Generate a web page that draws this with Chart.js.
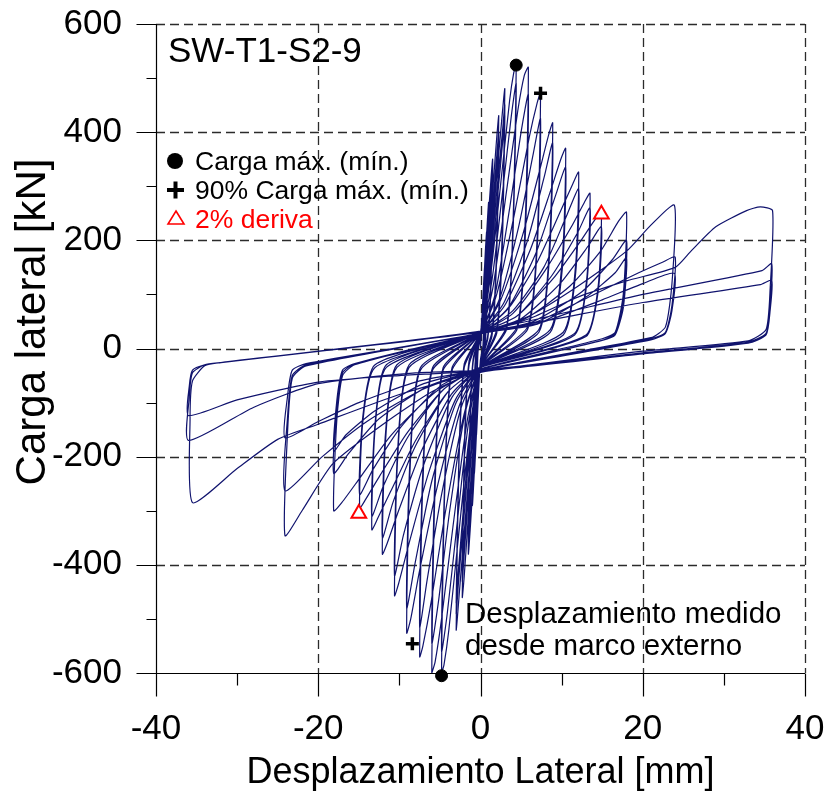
<!DOCTYPE html>
<html>
<head>
<meta charset="utf-8">
<script src="https://cdn.jsdelivr.net/npm/chart.js@4/dist/chart.umd.min.js"></script>
<style>
  body { margin: 0; background: #fff; }
  canvas { display: block; }
</style>
</head>
<body>
<canvas id="histeresis" width="829" height="794"></canvas>
<script>
// Lazo carga-desplazamiento: pares [desplazamiento mm, carga kN]
const inicio = [[0, 0]];

const ciclos05 = [
  [0.25,80],[0.5,150],[0.42,60],[0.3,5],[0,-20],[-0.25,-85],[-0.5,-160],[-0.42,-65],[-0.3,-5],[0,20],
  [0.25,75],[0.5,140],[0.42,55],[0.3,5],[0,-20],[-0.25,-80],[-0.5,-150],[-0.42,-60],[-0.3,-5],[0,20]
];
const ciclos075 = [
  [0.3,90],[0.6,180],[0.75,215],[0.63,85],[0.45,10],[0,-22],[-0.3,-95],[-0.6,-190],[-0.75,-230],[-0.63,-90],[-0.45,-10],[0,22],
  [0.35,85],[0.65,175],[0.75,200],[0.63,80],[0.45,10],[0,-22],[-0.35,-90],[-0.65,-180],[-0.75,-215],[-0.63,-85],[-0.45,-10],[0,22]
];
const ciclos10 = [
  [0.4,110],[0.75,210],[1.0,270],[0.85,110],[0.6,20],[0,-25],[-0.4,-115],[-0.75,-225],[-1.0,-290],[-0.85,-115],[-0.6,-20],[0,25],
  [0.45,100],[0.8,200],[1.0,250],[0.85,100],[0.6,15],[0,-25],[-0.45,-105],[-0.8,-210],[-1.0,-270],[-0.85,-105],[-0.6,-15],[0,25]
];
const ciclos15 = [
  [0.5,120],[1.0,250],[1.5,350],[1.3,140],[0.9,25],[0,-30],[-0.5,-125],[-1.0,-270],[-1.5,-380],[-1.3,-150],[-0.9,-25],[0,30],
  [0.6,115],[1.1,240],[1.5,325],[1.3,130],[0.9,20],[0,-30],[-0.6,-120],[-1.1,-255],[-1.5,-355],[-1.3,-140],[-0.9,-20],[0,30],
  [0.65,110],[1.15,230],[1.5,310],[1.3,120],[0.9,18],[0,-30],[-0.65,-115],[-1.15,-245],[-1.5,-340],[-1.3,-130],[-0.9,-18],[0,30]
];
const ciclos22 = [
  [0.7,130],[1.5,290],[2.0,390],[2.25,430],[1.95,170],[1.4,30],[0,-35],[-0.7,-140],[-1.5,-310],[-2.0,-420],[-2.25,-460],[-1.95,-180],[-1.4,-30],[0,30],
  [0.8,125],[1.6,280],[2.05,365],[2.25,400],[1.95,160],[1.4,25],[0,-35],[-0.8,-130],[-1.6,-295],[-2.05,-390],[-2.25,-430],[-1.95,-170],[-1.4,-25],[0,30],
  [0.85,120],[1.65,270],[2.1,350],[2.25,380],[1.95,150],[1.4,22],[0,-35],[-0.85,-125],[-1.65,-285],[-2.1,-375],[-2.25,-410],[-1.95,-160],[-1.4,-22],[0,30]
];
const ciclos30 = [
  [0.9,130],[1.9,300],[2.6,420],[3.0,480],[2.65,200],[2.0,35],[0,-35],[-0.9,-140],[-1.9,-320],[-2.6,-450],[-3.0,-520],[-2.65,-210],[-2.0,-35],[0,30],
  [1.0,125],[2.0,290],[2.7,400],[3.0,450],[2.65,180],[2.0,30],[0,-35],[-1.0,-130],[-2.0,-305],[-2.7,-430],[-3.0,-490],[-2.65,-200],[-2.0,-30],[0,30],
  [1.1,120],[2.1,280],[2.75,385],[3.0,430],[2.65,170],[2.0,28],[0,-35],[-1.1,-125],[-2.1,-295],[-2.75,-415],[-3.0,-470],[-2.65,-190],[-2.0,-28],[0,30]
];
const ciclos45 = [
  [1.2,130],[2.6,320],[3.6,460],[4.1,510],[4.4,524],[4.0,230],[3.2,40],[0,-35],[-1.3,-150],[-2.8,-360],[-3.9,-520],[-4.5,-585],[-4.8,-600],[-4.4,-260],[-3.5,-40],[0,30],
  [1.4,125],[2.8,300],[3.8,430],[4.4,490],[4.0,210],[3.2,35],[0,-35],[-1.5,-140],[-3.0,-340],[-4.1,-490],[-4.8,-560],[-4.4,-240],[-3.5,-35],[0,30]
];
const ciclos60 = [
  [1.5,110],[3.2,290],[4.6,440],[5.4,505],[5.9,520],[5.5,230],[4.5,40],[0,-35],[-1.6,-130],[-3.4,-330],[-4.8,-500],[-5.6,-580],[-6.0,-600],[-5.6,-260],[-4.6,-40],[0,30],
  [1.8,100],[3.6,260],[5.0,400],[5.9,470],[5.5,200],[4.5,35],[0,-35],[-1.9,-120],[-3.8,-300],[-5.2,-470],[-6.0,-545],[-5.6,-230],[-4.6,-35],[0,30]
];
const ciclos75 = [
  [2.0,100],[4.2,250],[6.0,390],[7.0,455],[7.4,472],[7.0,210],[5.8,40],[0,-35],[-2.0,-120],[-4.3,-300],[-6.1,-470],[-7.1,-550],[-7.5,-570],[-7.1,-250],[-5.9,-40],[0,30],
  [2.3,90],[4.7,225],[6.5,360],[7.4,425],[7.0,190],[5.8,35],[0,-35],[-2.4,-110],[-4.8,-270],[-6.6,-430],[-7.5,-515],[-7.1,-225],[-5.9,-35],[0,30]
];
const ciclos90 = [
  [2.5,90],[5.2,210],[7.3,330],[8.4,395],[8.9,417],[8.5,190],[7.2,35],[0,-35],[-2.6,-105],[-5.4,-260],[-7.5,-410],[-8.6,-500],[-9.1,-526],[-8.7,-230],[-7.4,-40],[0,30],
  [2.9,85],[5.8,200],[7.9,320],[8.9,380],[8.5,170],[7.2,30],[0,-35],[-3.0,-100],[-6.0,-245],[-8.1,-400],[-9.1,-480],[-8.7,-210],[-7.4,-35],[0,30]
];
const ciclos105 = [
  [3.0,80],[6.2,185],[8.6,290],[9.9,350],[10.5,370],[10.1,170],[8.6,35],[0,-35],[-3.1,-95],[-6.4,-230],[-8.8,-360],[-10.1,-435],[-10.6,-457],[-10.2,-200],[-8.8,-35],[0,30],
  [3.4,75],[6.8,175],[9.3,285],[10.5,335],[10.1,150],[8.6,30],[0,-35],[-3.5,-90],[-7.0,-215],[-9.5,-345],[-10.6,-420],[-10.2,-185],[-8.8,-30],[0,30]
];
const ciclos120 = [
  [3.5,75],[7.0,160],[9.9,255],[11.4,305],[12.1,326],[11.7,150],[10.2,30],[0,-35],[-3.6,-85],[-7.3,-190],[-10.1,-300],[-11.5,-360],[-12.1,-380],[-11.7,-170],[-10.3,-35],[0,30],
  [4.0,70],[7.8,150],[10.6,245],[12.1,295],[11.7,135],[10.2,25],[0,-35],[-4.0,-80],[-8.0,-180],[-10.8,-285],[-12.1,-350],[-11.7,-155],[-10.3,-30],[0,30]
];
const ciclos135 = [
  [4.0,65],[8.0,145],[11.2,225],[12.8,270],[13.5,287],[13.1,130],[11.6,28],[0,-35],[-4.0,-80],[-8.0,-170],[-11.1,-265],[-12.7,-315],[-13.4,-335],[-13.0,-150],[-11.6,-35],[0,30],
  [4.5,60],[8.8,135],[12.0,215],[13.5,260],[13.1,120],[11.6,25],[0,-35],[-4.5,-75],[-8.8,-160],[-12.0,-255],[-13.4,-310],[-13.0,-140],[-11.6,-30],[0,30]
];
const ciclos150 = [
  [4.5,60],[9.0,130],[12.4,200],[14.2,240],[14.9,250],[14.5,115],[13.0,25],[0,-35],[-4.5,-75],[-9.0,-155],[-12.4,-235],[-14.2,-280],[-14.9,-295],[-14.5,-135],[-13.0,-35],[0,30],
  [5.0,55],[9.8,120],[13.3,190],[14.9,225],[14.5,105],[13.0,22],[0,-35],[-5.0,-70],[-9.8,-145],[-13.3,-225],[-14.9,-270],[-14.5,-125],[-13.0,-30],[0,30]
];
const ciclos180 = [
  [5.5,55],[11.0,115],[14.8,180],[17.0,235],[18.0,252],[17.6,100],[16.6,30],[15.0,18],[0,-38],[-5.5,-80],[-11.0,-160],[-14.9,-240],[-17.1,-285],[-18.1,-300],[-17.7,-130],[-17.0,-50],[-15.5,-30],[0,28],
  [6.5,50],[12.5,105],[16.3,165],[18.0,200],[17.6,85],[16.6,28],[15.0,15],[0,-38],[-6.5,-70],[-12.5,-130],[-16.3,-195],[-18.1,-231],[-17.7,-110],[-17.0,-45],[-15.5,-28],[0,28],
  [7.0,45],[13.0,95],[16.6,140],[18.0,168],[17.6,75],[16.6,25],[15.0,15],[0,-38],[-7.0,-65],[-13.0,-115],[-16.6,-160],[-18.1,-190],[-17.7,-95],[-17.0,-40],[-15.5,-28],[0,28]
];
const ciclos240 = [
  [6,60],[12,115],[18,180],[21,228],[23.9,265],[23.6,120],[22.8,40],[21,20],[0,-40],[-6,-80],[-12,-140],[-18.2,-213],[-22,-300],[-24.1,-346],[-23.8,-160],[-23.2,-55],[-21.5,-32],[0,28],
  [7,50],[14,100],[19.5,140],[22.5,160],[24,169],[23.6,80],[22.8,30],[21,18],[0,-40],[-7,-75],[-14,-135],[-19.5,-200],[-24.1,-263],[-23.8,-130],[-23.2,-50],[-21.5,-30],[0,28],
  [7.5,48],[15,90],[20,120],[23.9,139],[23.6,70],[22.8,28],[21,16],[0,-40],[-7.5,-60],[-15,-100],[-20,-135],[-24.1,-165],[-23.8,-90],[-23.2,-40],[-21.5,-28],[0,28]
];
const ciclos360 = [
  [6,55],[12,95],[18,125],[24,150],[26,181],[29,225],[32.8,255],[34.5,262],[36,255],[35.7,110],[35.2,35],[33,14],[20,-5],[0,-44],[-10,-85],[-20,-140],[-25,-168],[-30,-222],[-35.5,-285],[-35.8,-130],[-35.5,-60],[-34,-32],[-32,-26],[0,32],
  [20,100],[34.7,144],[35.9,157],[35.7,80],[35.2,28],[33,12],[20,-8],[0,-40],[-8,-45],[-20,-65],[-28,-109],[-36,-170],[-35.9,-90],[-35.5,-45],[-34,-30],[-32,-26],[0,30],
  [20,85],[34.5,118],[35.9,126],[35.7,70],[35.2,25],[33,10],[20,-10],[0,-42],[-10,-50],[-20,-62],[-30,-95],[-36,-124],[-35.9,-70],[-35.5,-40],[-34,-30],[-32,-26],[0,30]
];

// puntos marcados
const cargaMax = [[4.4, 524], [-4.8, -605]];
const carga90 = [[7.4, 472], [-8.4, -546]];
const deriva2 = [[14.9, 248], [-15.0, -305]];

// ejes
const marcasX = [-40, -20, 0, 20, 40];
const menoresX = [-30, -10, 10, 30];
const marcasY = [-600, -400, -200, 0, 200, 400, 600];
const menoresY = [-500, -300, -100, 100, 300, 500];

const FUENTE = '"Liberation Sans", Arial, sans-serif';
const AZUL = '#10136e';

const toXY = arr => arr.map(p => ({ x: p[0], y: p[1] }));
const recorrido = [].concat(inicio, ciclos05, ciclos075, ciclos10, ciclos15, ciclos22, ciclos30,
  ciclos45, ciclos60, ciclos75, ciclos90, ciclos105, ciclos120, ciclos135, ciclos150,
  ciclos180, ciclos240, ciclos360);

// rejilla, ejes, marcas y textos
const marco = {
  id: 'marco',
  beforeDatasetsDraw(chart) {
    const { ctx, chartArea: a, scales: { x, y } } = chart;
    ctx.save();
    ctx.strokeStyle = '#2b2b2b';
    ctx.lineWidth = 1.3;
    ctx.setLineDash([9, 5]);
    ctx.beginPath();
    marcasX.slice(1).forEach(v => {
      const px = Math.round(x.getPixelForValue(v)) + 0.5;
      ctx.moveTo(px, a.top); ctx.lineTo(px, a.bottom);
    });
    marcasY.slice(1).forEach(v => {
      const py = Math.round(y.getPixelForValue(v)) + 0.5;
      ctx.moveTo(a.left, py); ctx.lineTo(a.right, py);
    });
    ctx.stroke();
    ctx.restore();
  },
  afterDraw(chart) {
    const { ctx, chartArea: a, scales: { x, y } } = chart;
    ctx.save();
    ctx.strokeStyle = '#000';
    ctx.lineWidth = 1.2;
    ctx.beginPath();
    const L = Math.round(a.left) + 0.5, B = Math.round(a.bottom) + 0.5;
    ctx.moveTo(L, a.top); ctx.lineTo(L, B); ctx.lineTo(a.right, B);
    marcasX.forEach(v => { const px = Math.round(x.getPixelForValue(v)) + 0.5; ctx.moveTo(px, B); ctx.lineTo(px, B + 23); });
    menoresX.forEach(v => { const px = Math.round(x.getPixelForValue(v)) + 0.5; ctx.moveTo(px, B); ctx.lineTo(px, B + 12); });
    marcasY.forEach(v => { const py = Math.round(y.getPixelForValue(v)) + 0.5; ctx.moveTo(L, py); ctx.lineTo(L - 20, py); });
    menoresY.forEach(v => { const py = Math.round(y.getPixelForValue(v)) + 0.5; ctx.moveTo(L, py); ctx.lineTo(L - 10, py); });
    ctx.stroke();

    ctx.fillStyle = '#000';
    ctx.textBaseline = 'alphabetic';
    ctx.textAlign = 'left';
    ctx.font = '35px ' + FUENTE;
    ctx.fillText('SW-T1-S2-9', 168, 62);

    // leyenda
    ctx.font = '26.5px ' + FUENTE;
    ctx.beginPath(); ctx.arc(175, 161, 8, 0, Math.PI * 2); ctx.fill();
    ctx.fillText('Carga máx. (mín.)', 195, 170);
    ctx.fillRect(167, 188, 17, 4); ctx.fillRect(173.5, 181.5, 4, 17);
    ctx.fillText('90% Carga máx. (mín.)', 195, 199);
    ctx.strokeStyle = '#ff0000'; ctx.lineWidth = 1.6;
    ctx.beginPath(); ctx.moveTo(176, 211); ctx.lineTo(184, 224); ctx.lineTo(168, 224); ctx.closePath(); ctx.stroke();
    ctx.fillStyle = '#ff0000';
    ctx.fillText('2% deriva', 195, 228);

    ctx.fillStyle = '#000';
    ctx.font = '29.5px ' + FUENTE;
    ctx.fillText('Desplazamiento medido', 465, 623);
    ctx.fillText('desde marco externo', 465, 655);

    // titulos de ejes
    ctx.textAlign = 'center';
    ctx.font = '36px ' + FUENTE;
    ctx.fillText('Desplazamiento Lateral [mm]', (a.left + a.right) / 2, 783);
    ctx.translate(45, 322);
    ctx.rotate(-Math.PI / 2);
    ctx.font = '42px ' + FUENTE;
    ctx.fillText('Carga lateral [kN]', 0, 0);
    ctx.restore();
  }
};

new Chart(document.getElementById('histeresis'), {
  type: 'scatter',
  data: {
    datasets: [
      { data: toXY(cargaMax), pointStyle: 'circle', pointRadius: 6, backgroundColor: '#000', borderColor: '#000', clip: false, order: 0 },
      { data: toXY(carga90), pointStyle: 'cross', pointRadius: 6.5, borderWidth: 3.5, borderColor: '#000', order: 0 },
      { data: toXY(deriva2), pointStyle: 'triangle', pointRadius: 8.5, borderWidth: 2, borderColor: '#ff0000', backgroundColor: '#fff', order: 0 },
      { data: toXY(recorrido), showLine: true, pointRadius: 0, borderColor: AZUL, borderWidth: 1.2, tension: 0.2, order: 1 }
    ]
  },
  options: {
    responsive: false,
    devicePixelRatio: 1,
    animation: false,
    events: [],
    layout: { padding: { top: 24, right: 24, left: 0, bottom: 0 } },
    plugins: { legend: { display: false }, tooltip: { enabled: false } },
    scales: {
      x: {
        type: 'linear', min: -40, max: 40,
        border: { display: false },
        grid: { display: false, drawTicks: false },
        ticks: { stepSize: 20, color: '#000', padding: 35, maxRotation: 0, font: { family: FUENTE, size: 35 } },
        afterFit: s => { s.height = 121; s.paddingLeft = 0; s.paddingRight = 0; }
      },
      y: {
        type: 'linear', min: -600, max: 600,
        border: { display: false },
        grid: { display: false, drawTicks: false },
        ticks: { stepSize: 200, color: '#000', padding: 34, font: { family: FUENTE, size: 35 } },
        afterFit: s => { s.width = 156; s.paddingTop = 0; s.paddingBottom = 0; }
      }
    }
  },
  plugins: [marco]
});
</script>
</body>
</html>
